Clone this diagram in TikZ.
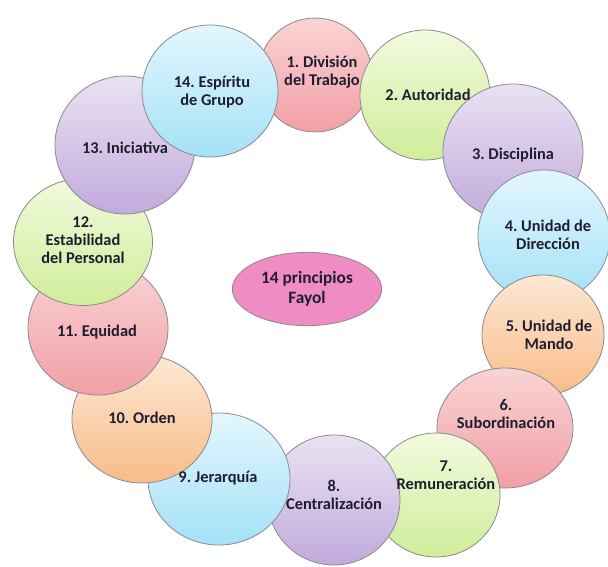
\documentclass[tikz,border=0pt]{standalone}
\usepackage{fontspec}
\setmainfont{Carlito}
\usepackage{tikz}
\usetikzlibrary{shapes.geometric}
\frenchspacing

\definecolor{rosaA}{HTML}{F9D4D4}
\definecolor{rosaB}{HTML}{F29FA6}
\definecolor{verdeA}{HTML}{F2FADE}
\definecolor{verdeB}{HTML}{D0ED9A}
\definecolor{moradoA}{HTML}{EAE2F3}
\definecolor{moradoB}{HTML}{C1AADC}
\definecolor{azulA}{HTML}{E3F6FD}
\definecolor{azulB}{HTML}{A4E1F7}
\definecolor{naranjaA}{HTML}{FDE8D5}
\definecolor{naranjaB}{HTML}{F8BC88}
\definecolor{centro}{HTML}{F08CC4}
\definecolor{borde}{HTML}{8A8A8A}
\definecolor{texto}{HTML}{1E1E30}

\begin{document}
\begin{tikzpicture}[x=0.75pt,y=-0.75pt,
    bola/.style={ellipse, draw=borde, line width=0.6pt, inner sep=0pt},
    etiqueta/.style={align=center, text=texto,
        font=\bfseries\fontsize{12.3}{13.5}\selectfont}]
    \useasboundingbox (0,0) rectangle (608,567);

    % principios: numero/x/y/ancho/alto/color
    \foreach \i/\x/\y/\w/\h/\c in {
        1/315/75/114/114/rosa, 2/425/95/130/130/verde,
        3/513/152/140/136/morado, 4/544/236/132/132/azul,
        5/543/335/122/120/naranja, 6/505/428/136/120/rosa,
        7/436/495/128/124/verde, 8/334/500/132/130/morado,
        9/219/479/142/132/azul, 10/142/419/140/128/naranja,
        11/98/328/140/134/rosa, 12/83/242/139/127/verde,
        13/125/145/140/138/morado, 14/210/91/136/132/azul}
        \node[bola, minimum width=0.75pt*\w, minimum height=0.75pt*\h,
            top color=\c A, bottom color=\c B] (p\i) at (\x,\y) {};

    % textos encima de las bolas
    \node[etiqueta] (t1) at (322,72) {1. División\\del Trabajo};
    \node[etiqueta] (t2) at (428,95) {2. Autoridad};
    \node[etiqueta] (t3) at (513,155) {3. Disciplina};
    \node[etiqueta] (t4) at (548,235) {4. Unidad de\\Dirección};
    \node[etiqueta] (t5) at (549,335) {5. Unidad de\\Mando};
    \node[etiqueta] (t6) at (506,414) {6.\\Subordinación};
    \node[etiqueta] (t7) at (446,475) {7.\\Remuneración};
    \node[etiqueta] (t8) at (334,495) {8.\\Centralización};
    \node[etiqueta] (t9) at (218,478) {9. Jerarquía};
    \node[etiqueta] (t10) at (142,418) {10. Orden};
    \node[etiqueta] (t11) at (97,332) {11. Equidad};
    \node[etiqueta] (t12) at (83,240) {12.\\Estabilidad\\del Personal};
    \node[etiqueta] (t13) at (125,148) {13. Iniciativa};
    \node[etiqueta] (t14) at (212,92) {14. Espíritu\\de Grupo};

    \node[ellipse, draw=borde, line width=0.6pt, fill=centro, inner sep=0pt,
        minimum width=112pt, minimum height=55pt, align=center, text=texto,
        font=\bfseries\fontsize{13}{15}\selectfont] (fayol) at (307,289)
        {14 principios\\Fayol};
\end{tikzpicture}
\end{document}
